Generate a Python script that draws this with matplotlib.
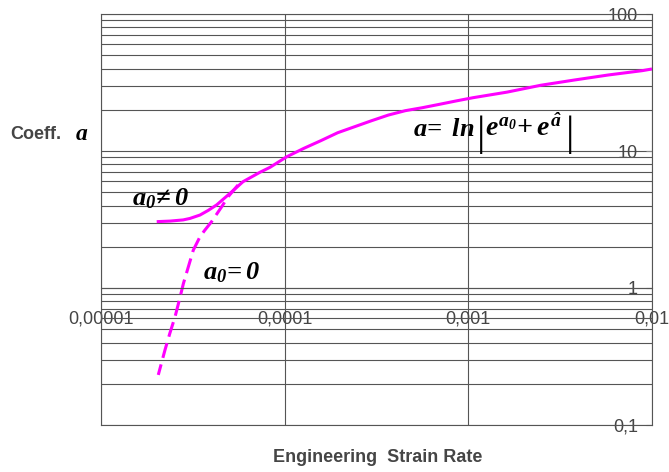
import matplotlib
matplotlib.use('Agg')
import matplotlib.pyplot as plt
from matplotlib.ticker import FixedLocator, FixedFormatter, LogLocator, NullFormatter, NullLocator

plt.rcParams['font.family'] = ['Liberation Sans', 'DejaVu Sans']
plt.rcParams['mathtext.fontset'] = 'custom'
plt.rcParams['mathtext.it'] = 'Liberation Serif:bold:italic'
plt.rcParams['mathtext.rm'] = 'Liberation Serif:bold:italic'
plt.rcParams['mathtext.bf'] = 'Liberation Serif:bold:italic'

# coefficient a against strain rate, a0 != 0
rate_a0 = [2.01e-5, 2.38e-5, 2.80e-5, 3.05e-5, 3.46e-5, 3.84e-5, 4.26e-5, 5.04e-5,
           5.93e-5, 7.34e-5, 8.32e-5, 1.028e-4, 1.272e-4, 1.572e-4, 1.944e-4, 2.402e-4,
           2.972e-4, 3.673e-4, 4.54e-4, 5.61e-4, 6.94e-4, 8.58e-4, 1.061e-3, 1.622e-3,
           2.48e-3, 3.79e-3, 5.79e-3, 8.85e-3, 1.0e-2]
coeff_a0 = [3.05, 3.08, 3.14, 3.22, 3.41, 3.69, 4.04, 4.91,
            5.97, 7.0, 7.6, 9.09, 10.46, 11.89, 13.6, 15.04,
            16.64, 18.31, 19.7, 20.7, 21.9, 23.2, 24.5, 26.9,
            30.2, 33.0, 35.9, 38.6, 39.7]

# a0 = 0 branch
rate_zero = [5.57e-5, 4.91e-5, 4.54e-5, 4.00e-5, 3.68e-5, 3.46e-5, 3.18e-5, 2.99e-5,
             2.81e-5, 2.67e-5, 2.53e-5, 2.37e-5, 2.23e-5, 2.05e-5]
coeff_zero = [5.65, 4.62, 3.92, 3.05, 2.65, 2.37, 1.89, 1.43,
              1.08, 0.817, 0.617, 0.467, 0.353, 0.232]

x_ticks = [1e-5, 1e-4, 1e-3, 1e-2]
x_labels = ['0,00001', '0,0001', '0,001', '0,01']
y_ticks = [0.1, 1, 10, 100]
y_labels = ['0,1', '1', '10', '100']

grid_col = '#555555'
text_col = '#454545'

fig = plt.figure(figsize=(6.69, 4.72), dpi=100)
ax = fig.add_axes([0.151, 0.0996, 0.8236, 0.8707])

ax.set_xscale('log')
ax.set_yscale('log')
ax.set_xlim(1e-5, 1e-2)
ax.set_ylim(0.1, 100)

ax.plot(rate_a0, coeff_a0, color='#ff00ff', lw=2.2, solid_capstyle='butt')
ax.plot(rate_zero, coeff_zero, color='#ff00ff', lw=2.2, dashes=(5, 2.2))

ax.xaxis.set_major_locator(FixedLocator(x_ticks))
ax.xaxis.set_major_formatter(FixedFormatter(x_labels))
ax.xaxis.set_minor_locator(NullLocator())
ax.yaxis.set_major_locator(FixedLocator(y_ticks))
ax.yaxis.set_major_formatter(FixedFormatter(y_labels))
ax.yaxis.set_minor_locator(LogLocator(base=10, subs=range(2, 10)))
ax.yaxis.set_minor_formatter(NullFormatter())

ax.grid(True, which='both', axis='y', color=grid_col, lw=0.8)
ax.grid(True, which='major', axis='x', color=grid_col, lw=0.8)

# x axis crosses at a = 1
ax.spines['bottom'].set_position(('data', 1))
for s in ax.spines.values():
    s.set_color(grid_col)
    s.set_linewidth(0.8)
ax.axhline(0.1, color=grid_col, lw=0.8, clip_on=False)

ax.tick_params(axis='x', length=0, pad=16, labelsize=13, labelcolor=text_col)
ax.yaxis.tick_right()
ax.tick_params(axis='y', which='major', direction='in', length=4, width=0.8,
               color='#888888', pad=-10, labelsize=13, labelcolor=text_col)
ax.tick_params(axis='y', which='minor', length=0)
for lab in ax.get_yticklabels():
    lab.set_ha('right')

fig.text(0.565, 0.03, 'Engineering  Strain Rate', ha='center', va='center',
         fontsize=13, fontweight='bold', color=text_col)
fig.text(0.015, 0.716, 'Coeff.', ha='left', va='center',
         fontsize=13, fontweight='bold', color=text_col)
fig.text(0.112, 0.716, r'$a$', ha='left', va='center', fontsize=17, color='black')

# formula a = ln|e^a0 + e^a_hat|, bars set as separate tall glyphs
ax.text(5.0e-4, 12.87, r'$a\!=\;ln$', ha='left', va='baseline', fontsize=19, color='black')
ax.text(1.231e-3, 12.87, r'$e^{a_0}\!+e^{\hat{a}}$', ha='left', va='baseline',
        fontsize=20, color='black')
bar_kw = dict(ha='center', va='center', fontsize=30, color='black',
              family='Liberation Serif')
ax.text(1.171e-3, 13.19, '|', **bar_kw)
ax.text(3.573e-3, 13.19, '|', **bar_kw)

ax.text(1.47e-5, 4.04, r'$a_0\!\neq 0$', ha='left', va='baseline',
        fontsize=19, color='black')
ax.text(3.59e-5, 1.16, r'$a_0\!=0$', ha='left', va='baseline',
        fontsize=19, color='black')

fig.savefig('out.png', dpi=100)
